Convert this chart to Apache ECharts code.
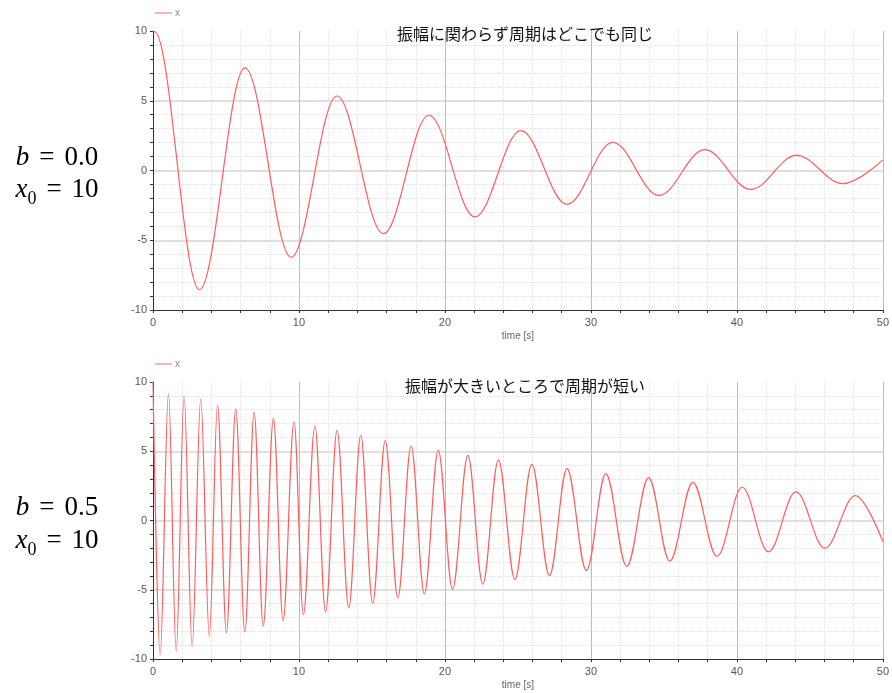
<!DOCTYPE html>
<html>
<head>
<meta charset="utf-8">
<script src="https://cdn.jsdelivr.net/npm/echarts@6/dist/echarts.min.js"></script>
<style>
html,body{margin:0;padding:0;background:#fff;}
#chart{width:892px;height:693px;}
</style>
</head>
<body>
<div id="chart"></div>
<script>
// Top chart (b = 0.0): time of extremes [s] and displacement x
const topTime = [0, 0.1, 3.18, 6.3, 9.46, 12.6, 15.78, 18.9, 22.05, 25.2, 28.36, 31.5, 34.65, 37.8, 40.95, 44.08, 47.27, 50];
const topX    = [10, 9.95, -8.55, 7.35, -6.22, 5.34, -4.53, 3.96, -3.33, 2.86, -2.43, 2.02, -1.79, 1.5, -1.36, 1.09, -0.95, 0.76];

// Bottom chart (b = 0.5)
const botTime = [0, 0.49, 1.06, 1.59, 2.13, 2.68, 3.27, 3.86, 4.42, 5.03,
                 5.67, 6.29, 6.93, 7.55, 8.25, 8.91, 9.66, 10.3, 11.09, 11.82,
                 12.61, 13.41, 14.23, 15.05, 15.91, 16.77, 17.68, 18.59, 19.54, 20.52,
                 21.57, 22.59, 23.66, 24.79, 25.95, 27.16, 28.36, 29.69, 31.02, 32.45,
                 33.95, 35.4, 36.98, 38.63, 40.36, 42.16, 44.04, 46.02, 48.1, 50];
const botX    = [10, -9.68, 9.15, -9.45, 8.99, -9.08, 8.78, -8.36, 8.33, -8.1,
                 8.06, -8.06, 7.8, -7.64, 7.37, -7.23, 7.13, -6.8, 6.84, -6.6,
                 6.5, -6.32, 6.14, -5.96, 5.76, -5.6, 5.38, -5.29, 5.07, -4.95,
                 4.7, -4.59, 4.37, -4.25, 4.06, -3.97, 3.74, -3.62, 3.38, -3.32,
                 3.09, -2.93, 2.75, -2.6, 2.4, -2.26, 2.06, -2.0, 1.79, -1.52];

const seriesName = 'x';
const axisName = 'time [s]';
const topTitle = '振幅に関わらず周期はどこでも同じ';
const botTitle = '振幅が大きいところで周期が短い';
const topB = '0.0', botB = '0.5', x0Val = '10';

const zip = (a, b) => a.map((v, i) => [v, b[i]]);

const labelFont = 'Liberation Sans, Arial, sans-serif';
const lineColor = '#ff5c5c';

function xAxisCfg(gi) {
  return {
    type: 'value', gridIndex: gi, min: 0, max: 50, interval: 10,
    name: axisName, nameLocation: 'middle', nameGap: 21,
    nameTextStyle: {color: '#666', fontSize: 10, fontFamily: labelFont},
    axisLine: {show: true, onZero: false, lineStyle: {color: '#333', width: 1}},
    axisTick: {show: true, length: 3, lineStyle: {color: '#333'}},
    minorTick: {show: true, splitNumber: 5, length: 3, lineStyle: {color: '#333'}},
    axisLabel: {color: '#555', fontSize: 11, fontFamily: labelFont, margin: 7},
    splitLine: {show: true, lineStyle: {color: '#bcbcbc', width: 1}},
    minorSplitLine: {show: true, lineStyle: {color: '#dedede', type: 'dotted', width: 1}}
  };
}
function yAxisCfg(gi) {
  return {
    type: 'value', gridIndex: gi, min: -10, max: 10, interval: 5,
    axisLine: {show: true, onZero: false, lineStyle: {color: '#333', width: 1}},
    axisTick: {show: true, length: 3, lineStyle: {color: '#333'}},
    minorTick: {show: true, splitNumber: 5, length: 3, lineStyle: {color: '#333'}},
    axisLabel: {color: '#555', fontSize: 11, fontFamily: labelFont, margin: 6},
    splitLine: {show: true, showMaxLine: false, showMinLine: false, lineStyle: {color: '#d4d4d4', width: 1.5}},
    minorSplitLine: {show: true, lineStyle: {color: '#dedede', type: 'dotted', width: 1}}
  };
}
function seriesCfg(gi, t, x) {
  return {
    name: seriesName, type: 'line', xAxisIndex: gi, yAxisIndex: gi,
    data: zip(t, x), showSymbol: false, symbol: 'none',
    smooth: 0.36, smoothMonotone: 'x',
    lineStyle: {color: lineColor, width: 1.2}, itemStyle: {color: lineColor},
    animation: false
  };
}
function legendCfg(top) {
  return {
    data: [{name: seriesName, icon: 'rect'}], left: 155, top: top, padding: 0,
    itemWidth: 17, itemHeight: 1.5, itemGap: 3,
    itemStyle: {color: '#ff9c9c', borderWidth: 0},
    textStyle: {color: '#888', fontSize: 10, fontFamily: labelFont, padding: [0, 0, 0, -2]},
    selectedMode: false
  };
}

const mathRich = {
  it: {fontFamily: 'Liberation Serif, serif', fontStyle: 'italic', fontSize: 27, lineHeight: 36, color: '#000'},
  sub: {fontFamily: 'Liberation Serif, serif', fontSize: 18, lineHeight: 18, verticalAlign: 'bottom', color: '#000'},
  eq: {fontFamily: 'Liberation Serif, serif', fontSize: 27, lineHeight: 36, padding: [0, 10, 0, 10], color: '#000'},
  n: {fontFamily: 'Liberation Serif, serif', fontSize: 27, lineHeight: 36, color: '#000'}
};
function mathText(x, y, str) {
  return {type: 'text', x: x, y: y, silent: true,
    style: {text: str, rich: mathRich, align: 'center', verticalAlign: 'middle', fill: '#000'}};
}
function titleText(x, y, str) {
  return {type: 'text', x: x, y: y, silent: true, z: 100,
    style: {text: str, fontFamily: 'Noto Sans CJK JP', fontSize: 16, fill: '#111', align: 'center', verticalAlign: 'middle'}};
}

const chart = echarts.init(document.getElementById('chart'), null, {renderer: 'canvas'});
chart.setOption({
  animation: false,
  backgroundColor: '#fff',
  grid: [
    {left: 153, top: 31, width: 734, height: 279, containLabel: false},
    {left: 153, top: 382, width: 734, height: 277, containLabel: false}
  ],
  legend: [legendCfg(8), legendCfg(359)],
  xAxis: [xAxisCfg(0), xAxisCfg(1)],
  yAxis: [yAxisCfg(0), yAxisCfg(1)],
  series: [seriesCfg(0, topTime, topX), seriesCfg(1, botTime, botX)],
  graphic: [
    titleText(525, 34, topTitle),
    titleText(525, 386, botTitle),
    mathText(57, 158, '{it|b}{eq|=}{n|' + topB + '}'),
    mathText(57, 190, '{it|x}{sub|0}{eq|=}{n|' + x0Val + '}'),
    mathText(57, 508, '{it|b}{eq|=}{n|' + botB + '}'),
    mathText(57, 541, '{it|x}{sub|0}{eq|=}{n|' + x0Val + '}')
  ]
});
</script>
</body>
</html>
